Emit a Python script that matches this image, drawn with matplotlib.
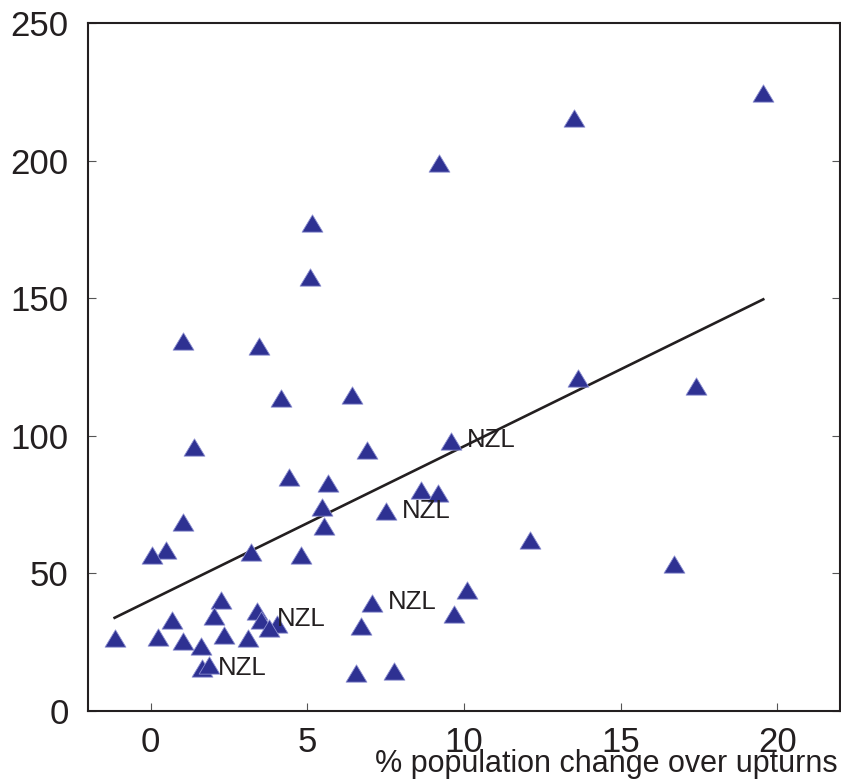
import numpy as np
import matplotlib
matplotlib.use('Agg')
from matplotlib import pyplot as plt
from matplotlib.path import Path

plt.rcParams['font.family'] = ['Liberation Sans', 'DejaVu Sans']

# % population change over upturns vs. house price change
pop_change = [19.55, 13.5, 9.2, 5.15, 5.08, 1.03, 3.46, 13.65, 17.4, 4.17,
              6.43, 1.37, 9.58, 6.92, 4.4, 5.67, 8.63, 9.17, 5.46, 7.51,
              5.54, 1.03, 0.48, 0.03, 3.2, 4.8, 12.12, 16.69, 10.1, 9.68,
              7.06, 6.71, 6.54, 7.78, 2.26, 2.03, 0.69, -1.15, 0.23, 1.02,
              2.35, 1.62, 3.1, 3.38, 3.51, 4.02, 3.79, 1.63, 1.87]
price_change = [224.5, 215.5, 199.0, 177.5, 157.6, 134.6, 132.6, 121.0, 118.0, 113.6,
                114.9, 96.0, 98.1, 94.8, 85.1, 83.0, 80.3, 79.1, 74.1, 72.5,
                67.3, 68.5, 58.5, 56.8, 57.7, 56.7, 62.0, 53.4, 44.1, 35.4,
                39.2, 31.0, 13.7, 14.4, 40.3, 34.5, 33.2, 26.4, 27.0, 25.6,
                27.7, 23.5, 26.4, 36.2, 33.1, 31.6, 30.1, 15.5, 16.6]
labelled = [12, 19, 30, 44, 47]   # New Zealand upturns
label_text = 'NZL'

# fitted line
fit_intercept = 40.3
fit_slope = 5.59

xticks = [0, 5, 10, 15, 20]
yticks = [0, 50, 100, 150, 200, 250]

ink = '#231f20'
blue = '#2e3192'

fig = plt.figure(figsize=(8.41, 7.79), dpi=100)
ax = fig.add_axes([88 / 841, 68 / 779, 752 / 841, 688 / 779])

tri = Path([(-1, -0.83), (1, -0.83), (0, 0.83), (-1, -0.83)],
           [Path.MOVETO, Path.LINETO, Path.LINETO, Path.CLOSEPOLY])

xs = np.array([min(pop_change), max(pop_change)])
ax.plot(xs, fit_intercept + fit_slope * xs, color=ink, lw=1.9, zorder=2)
ax.plot(pop_change, price_change, ls='none', marker=tri, ms=15,
        mfc=blue, mec='#8c8fd0', mew=0.6, zorder=3)

for i in labelled:
    ax.annotate(label_text, (pop_change[i], price_change[i]),
                xytext=(11.5, 0.5), textcoords='offset points',
                ha='left', va='center', fontsize=18.5, color=ink, zorder=4)

ax.set_xlim(-2, 22)
ax.set_ylim(0, 250)
ax.set_xticks(xticks)
ax.set_yticks(yticks)

for s in ax.spines.values():
    s.set_linewidth(1.5)
    s.set_color(ink)

ax.tick_params(axis='both', direction='in', length=6, width=0.8,
               color='#555555', labelsize=25, labelcolor=ink)
ax.tick_params(axis='y', right=True, pad=14)
ax.tick_params(axis='x', top=False, pad=11)

fig.text(838 / 841, 7 / 779, '% population change over upturns',
         ha='right', va='baseline', fontsize=22, color=ink)

fig.savefig('out.png', dpi=100)
